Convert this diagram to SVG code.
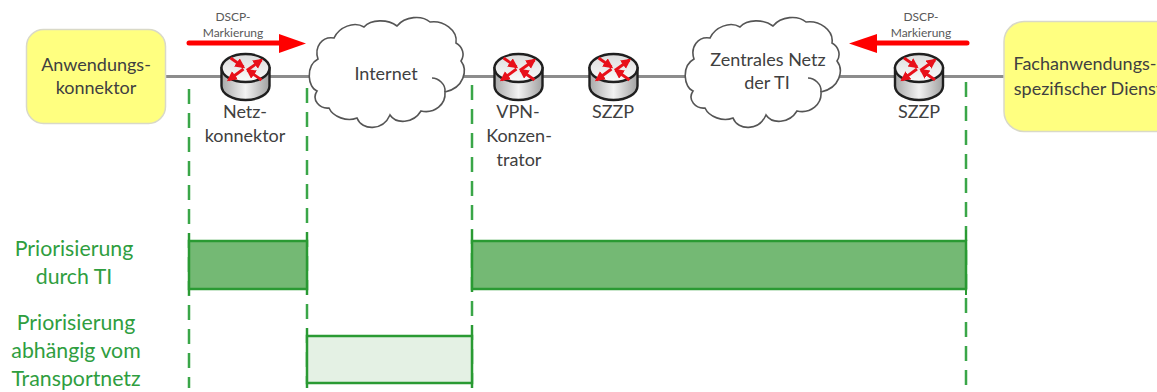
<svg xmlns="http://www.w3.org/2000/svg" width="1157" height="392" viewBox="0 0 1157 392">
<style>
text{font-family:Lato,"Liberation Sans",sans-serif;fill:#404040;text-anchor:middle}
.t{font-size:18px}
.s{font-size:12px;fill:#595959}
.g{font-size:21.300px;fill:#2f9e3f}
.box{fill:#ffff80;stroke:#d9d9c8;stroke-width:1.5}
.link{stroke:#8c8c8c;stroke-width:3;fill:none}
.dash{stroke:#3aa648;stroke-width:2.500;stroke-dasharray:15 9;fill:none}
.tick{stroke:#2a9a33;stroke-width:2;fill:none}
.bar{stroke:#2a9a33;stroke-width:2.500}
.mark{stroke:#ff0000;stroke-width:5;stroke-linecap:round;fill:none}
.ra{stroke:#e8101a;stroke-width:2.800;fill:none;marker-end:url(#rh)}
.cloud{fill:#fff;stroke:#555;stroke-width:1.600}
</style>
<defs>
<linearGradient id="body" x1="0" x2="1" y1="0" y2="0">
<stop offset="0" stop-color="#a8a8a8"/><stop offset=".5" stop-color="#f2f2f2"/><stop offset="1" stop-color="#a0a0a0"/>
</linearGradient>
<linearGradient id="top" x1="0" x2="0" y1="0" y2="1">
<stop offset="0" stop-color="#dcdcdc"/><stop offset="1" stop-color="#fbfbfb"/>
</linearGradient>
<marker id="rh" markerUnits="userSpaceOnUse" markerWidth="11" markerHeight="11" refX="8" refY="5" orient="auto">
<path d="M0 0L10 5L0 10z" fill="#e8101a"/>
</marker>
<g id="router">
<path d="M-24 -9V9A24 14 0 0 0 24 9V-9z" fill="url(#body)" stroke="#1f1f1f" stroke-width="2.400"/>
<ellipse cx="0" cy="-9" rx="24" ry="14" fill="url(#top)" stroke="#1f1f1f" stroke-width="2.400"/>
<path class="ra" d="M-15 -19L-2 -10"/>
<path class="ra" d="M2 -7L16 -17"/>
<path class="ra" d="M-2 -8L-17 3"/>
<path class="ra" d="M16 3L2 -7"/>
</g>
<path id="cloud" class="cloud" d="M318 59C314 47 322 36 334 38C339 27 354 21 364 27C371 19 388 19 397 26C405 16 422 15 430 22C443 20 458 30 456 43C463 47 465 55 461 61C468 70 464 88 445 92C446 104 435 114 421 111C413 124 396 124 390 115C383 131 362 131 357 118C347 122 333 117 329 108C320 109 311 100 317 91C308 88 305 66 318 59Z"/>
</defs>

<g id="connectors">
<path class="link" d="M165 76.500H1004"/>
<path class="dash" d="M189 89V388"/>
<path class="dash" d="M307 88V388"/>
<path class="dash" d="M472 85V388"/>
<path class="dash" d="M966 82V388"/>
</g>

<g id="node-anwendungskonnektor">
<rect class="box" x="26.500" y="29.500" width="139" height="94" rx="17"/>
<text class="t" x="96" y="71">Anwendungs-</text>
<text class="t" x="96" y="94">konnektor</text>
</g>

<g id="node-fachdienst">
<rect class="box" x="1004" y="21.500" width="175" height="110" rx="20"/>
<text class="t" x="1085" y="70">Fachanwendungs-</text>
<text class="t" x="1088" y="95">spezifischer Dienst</text>
</g>

<g id="mark-left">
<path class="mark" d="M189 43H282"/>
<path d="M279 34L306 43.500L279 53z" fill="#ff0000"/>
<text class="s" x="233" y="21">DSCP-</text>
<text class="s" x="233" y="37">Markierung</text>
</g>

<g id="mark-right">
<path class="mark" d="M967 43H874"/>
<path d="M877 34L849 43.500L877 53z" fill="#ff0000"/>
<text class="s" x="921" y="21">DSCP-</text>
<text class="s" x="921" y="37">Markierung</text>
</g>

<g id="node-netzkonnektor">
<use href="#router" x="245.500" y="77"/>
<text class="t" x="245" y="118">Netz-</text>
<text class="t" x="245" y="142">konnektor</text>
</g>

<g id="node-internet">
<use href="#cloud"/>
<path class="cloud" style="fill:none" d="M432 78C438 78 446 84 445 92"/>
<text class="t" x="386" y="80">Internet</text>
</g>

<g id="node-vpn">
<use href="#router" x="518.500" y="77"/>
<text class="t" x="518" y="118">VPN-</text>
<text class="t" x="519" y="142">Konzen-</text>
<text class="t" x="519" y="166">trator</text>
</g>

<g id="node-szzp1">
<use href="#router" x="613.500" y="77"/>
<text class="t" x="613" y="118">SZZP</text>
</g>

<g id="node-zentral">
<use href="#cloud" x="376"/>
<path class="cloud" style="fill:none" d="M808 78C814 78 822 84 821 92"/>
<text class="t" x="768" y="66">Zentrales Netz</text>
<text class="t" x="767" y="89">der TI</text>
</g>

<g id="node-szzp2">
<use href="#router" x="919" y="77"/>
<text class="t" x="919" y="118">SZZP</text>
</g>

<g id="prio-ti">
<rect x="189" y="241" width="118" height="48" fill="#74b974" class="bar"/>
<rect x="472" y="241" width="494" height="48" fill="#74b974" class="bar"/>
<path class="tick" d="M189 233V295M307 232V295M472 230V292M966 230V295"/>
<text class="g" x="74" y="256">Priorisierung</text>
<text class="g" x="74" y="284">durch TI</text>
</g>

<g id="prio-transport">
<rect x="307" y="336" width="165" height="47" fill="#e4f1e4" class="bar"/>
<path class="tick" d="M307 328V388M472 325V388"/>
<text class="g" x="76" y="330">Priorisierung</text>
<text class="g" x="76" y="358">abhängig vom</text>
<text class="g" x="76" y="386">Transportnetz</text>
</g>
</svg>
